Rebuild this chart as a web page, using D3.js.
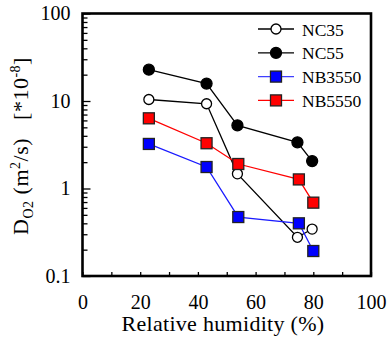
<!DOCTYPE html>
<html>
<head>
<meta charset="utf-8">
<script src="https://cdn.jsdelivr.net/npm/d3@7"></script>
<style>
  body { margin: 0; background: #fff; }
</style>
</head>
<body>
<div id="chart"></div>
<script>
// values
const humidityNC = [23, 43, 53.7, 74.5, 79.6];
const humidityNB = [23, 43, 54, 75, 80];
const nc35 = [10.4, 9.3, 1.47, 0.277, 0.344];
const nc55 = [22.8, 15.8, 5.27, 3.37, 2.06];
const nb3550 = [3.23, 1.76, 0.472, 0.40, 0.193];
const nb5550 = [6.34, 3.29, 1.905, 1.27, 0.689];
const seriesNames = ['NC35', 'NC55', 'NB3550', 'NB5550'];
const xTicks = [0, 20, 40, 60, 80, 100];
const yTicks = [0.1, 1, 10, 100];

const serif = "'Liberation Serif', 'DejaVu Serif', serif";

const series = [
  { name: 'NC35', x: humidityNC, y: nc35, line: '#000', fill: '#fff', shape: 'circle' },
  { name: 'NC55', x: humidityNC, y: nc55, line: '#000', fill: '#000', shape: 'circle' },
  { name: 'NB3550', x: humidityNB, y: nb3550, line: '#1a1aff', fill: '#0000ff', shape: 'square' },
  { name: 'NB5550', x: humidityNB, y: nb5550, line: '#ff0000', fill: '#ff0000', shape: 'square' },
];

const svg = d3.select('#chart')
  .append('svg')
  .attr('width', 388)
  .attr('height', 338)
  .style('font-family', serif);

const margin = { top: 13.5, left: 82.5, right: 17, bottom: 62 };
const width = 388 - margin.left - margin.right;
const height = 338 - margin.top - margin.bottom;

const g = svg.append('g')
  .attr('transform', `translate(${margin.left},${margin.top})`);

const x = d3.scaleLinear().domain([0, 100]).range([0, width]);
const y = d3.scaleLog().domain([0.1, 100]).range([height, 0]);

// minor log ticks
const minor = [];
[0.1, 1, 10].forEach((d) => {
  for (let k = 2; k <= 9; k++) minor.push(d * k);
});

g.append('g')
  .attr('class', 'axis axis--y-minor')
  .call(d3.axisLeft(y).tickValues(minor).tickSize(-5).tickFormat(''))
  .call((a) => a.select('.domain').remove())
  .call((a) => a.selectAll('text').remove());

g.append('g')
  .attr('class', 'axis axis--y')
  .call(d3.axisLeft(y).tickValues(yTicks).tickSize(-8).tickPadding(12)
    .tickFormat((d) => (d >= 1 ? d3.format('d')(d) : '0.1')))
  .call((a) => a.select('.domain').remove())
  .attr('font-family', null)
  .attr('font-size', null)
  .selectAll('text')
  .style('font-size', '20px');

// x ticks every 10, labels every 20
g.append('g')
  .attr('class', 'axis axis--x-minor')
  .attr('transform', `translate(0,${height})`)
  .call(d3.axisBottom(x).tickValues(d3.range(10, 100, 20)).tickSize(-4).tickFormat(''))
  .call((a) => a.select('.domain').remove())
  .call((a) => a.selectAll('text').remove());

g.append('g')
  .attr('class', 'axis axis--x')
  .attr('transform', `translate(0,${height})`)
  .call(d3.axisBottom(x).tickValues(xTicks).tickSize(-4).tickPadding(19))
  .call((a) => a.select('.domain').remove())
  .attr('font-family', null)
  .attr('font-size', null)
  .selectAll('text')
  .style('font-size', '20px');

g.selectAll('.tick line').attr('stroke', '#000').attr('stroke-width', 1.3);

// frame
g.append('rect')
  .attr('width', width)
  .attr('height', height)
  .attr('fill', 'none')
  .attr('stroke', '#000')
  .attr('stroke-width', 2.6);

const line = d3.line()
  .x((d) => x(d[0]))
  .y((d) => y(d[1]));

function drawMarker(sel, s) {
  if (s.shape === 'circle') {
    sel.append('circle')
      .attr('r', s.fill === '#000' ? 5.5 : 5)
      .attr('fill', s.fill)
      .attr('stroke', '#000')
      .attr('stroke-width', 1.3);
  } else {
    sel.append('rect')
      .attr('x', -5.5)
      .attr('y', -5.5)
      .attr('width', 11)
      .attr('height', 11)
      .attr('fill', s.fill)
      .attr('stroke', '#222')
      .attr('stroke-width', 1.3);
  }
}

series.forEach((s) => {
  const pts = s.x.map((v, i) => [v, s.y[i]]);
  g.append('path')
    .datum(pts)
    .attr('fill', 'none')
    .attr('stroke', s.line)
    .attr('stroke-width', 1.3)
    .attr('d', line);
});

series.forEach((s) => {
  const pts = s.x.map((v, i) => [v, s.y[i]]);
  g.selectAll(null)
    .data(pts)
    .enter()
    .append('g')
    .attr('transform', (d) => `translate(${x(d[0])},${y(d[1])})`)
    .each(function () { drawMarker(d3.select(this), s); });
});

// legend
const legend = svg.append('g').attr('transform', 'translate(258,29)');
seriesNames.forEach((name, i) => {
  const s = series.find((d) => d.name === name);
  const row = legend.append('g').attr('transform', `translate(0,${i * 23.8})`);
  row.append('line')
    .attr('x1', 0).attr('x2', 36)
    .attr('stroke', s.fill === '#0000ff' ? '#4040ff' : s.line)
    .attr('stroke-width', 1.3);
  drawMarker(row.append('g').attr('transform', 'translate(18,0)'), s);
  row.append('text')
    .attr('x', 44)
    .attr('y', 6.5)
    .style('font-size', '17.5px')
    .text(name);
});

// axis titles
svg.append('text')
  .attr('x', 223)
  .attr('y', 331)
  .attr('text-anchor', 'middle')
  .style('font-size', '22px')
  .style('letter-spacing', '0.3px')
  .text('Relative humidity (%)');

const yTitle = svg.append('text')
  .attr('transform', 'translate(28,146) rotate(-90)')
  .attr('text-anchor', 'middle')
  .style('font-size', '22px')
  .style('letter-spacing', '0.5px');
yTitle.append('tspan').text('D');
yTitle.append('tspan').attr('dy', 5).style('font-size', '14px').text('O2');
yTitle.append('tspan').attr('dy', -5).text('\u00a0(m');
yTitle.append('tspan').attr('dy', -8).style('font-size', '14px').text('2');
yTitle.append('tspan').attr('dy', 8).text('/s)\u00a0\u00a0\u00a0[*10');
yTitle.append('tspan').attr('dy', -8).style('font-size', '14px').text('-8');
yTitle.append('tspan').attr('dy', 8).text(']');
</script>
</body>
</html>
